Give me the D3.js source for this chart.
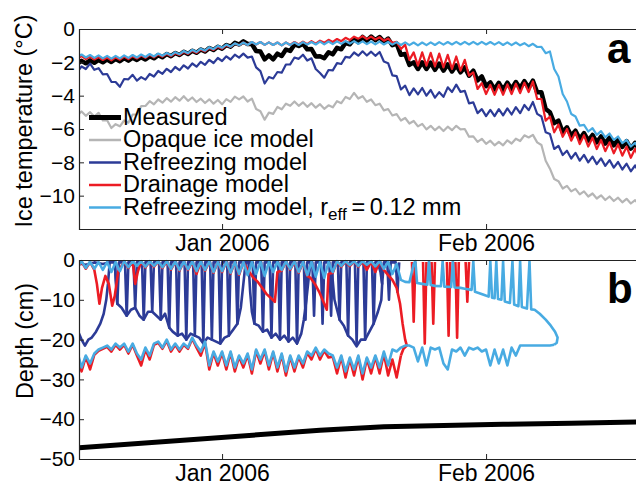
<!DOCTYPE html>
<html><head><meta charset="utf-8">
<script src="https://cdn.jsdelivr.net/npm/d3@7"></script>
<style>body{margin:0;background:#fff} svg{display:block}</style>
</head><body>
<svg id="c" width="636" height="484"></svg>
<script>
// ---------- DATA ----------
// time in days from 15 Dec 2005 00:00 UTC
const tStart = Date.UTC(2005, 11, 15);
const stepDays = 0.5;               // regular series sampled every half day from t = 0
const xTickDates = [Date.UTC(2006, 0, 1), Date.UTC(2006, 1, 1)];
const xTickLabels = ["Jan 2006", "Feb 2006"];
const tempTicks = [0, -2, -4, -6, -8, -10];
const depthTicks = [0, -10, -20, -30, -40, -50];
const seriesNames = ["Measured", "Opaque ice model", "Refreezing model", "Drainage model", "Refreezing model, r"];

// Panel a: ice temperature (°C)
const measured = [-2.08,-1.91,-2.06,-1.88,-2.03,-1.86,-2.0,-1.83,-1.98,-1.8,
-1.93,-1.75,-1.9,-1.72,-1.86,-1.69,-1.83,-1.64,-1.76,-1.57,
-1.7,-1.5,-1.63,-1.44,-1.56,-1.37,-1.5,-1.3,-1.43,-1.23,
-1.35,-1.14,-1.26,-1.06,-1.18,-0.96,-1.06,-0.83,-0.93,-0.74,
-0.9,-0.9,-1.32,-1.35,-1.82,-1.58,-1.82,-1.48,-1.62,-1.23,
-1.32,-0.93,-1.02,-0.88,-1.22,-1.2,-1.65,-1.63,-1.75,-1.4,
-1.52,-1.13,-1.22,-0.83,-0.92,-0.61,-0.79,-0.48,-0.7,-0.45,
-0.67,-0.48,-0.77,-0.58,-0.97,-0.88,-1.55,-1.5,-2.15,-2.0,
-2.4,-2.0,-2.4,-2.02,-2.45,-2.07,-2.5,-2.12,-2.55,-2.18,
-2.6,-2.3,-2.8,-2.5,-3.08,-2.85,-3.43,-3.2,-3.62,-3.23,
-3.65,-3.22,-3.6,-3.18,-3.55,-3.13,-3.52,-3.1,-3.8,-3.8,
-4.8,-5.0,-5.65,-5.5,-6.2,-5.9,-6.4,-6.1,-6.6,-6.25,
-6.7,-6.36,-6.8,-6.45,-6.88,-6.52,-6.98,-6.63,-7.08,-6.73,
-7.18,-6.83,-7.27];
const opaqueModel = [-5.17,-4.95,-5.21,-4.99,-5.25,-5.03,-5.49,-5.48,-5.94,-5.71,
-5.84,-5.49,-5.62,-5.13,-5.12,-4.63,-4.62,-4.33,-4.52,-4.23,
-4.42,-4.15,-4.36,-4.09,-4.3,-4.03,-4.31,-4.11,-4.38,-4.18,
-4.44,-4.22,-4.48,-4.26,-4.52,-4.21,-4.37,-4.06,-4.22,-4.05,
-4.35,-4.18,-4.8,-4.93,-5.44,-5.02,-5.09,-4.68,-4.82,-4.48,
-4.61,-4.35,-4.61,-4.4,-4.67,-4.45,-4.72,-4.51,-4.79,-4.58,
-4.7,-4.33,-4.45,-4.08,-4.2,-3.83,-4.17,-4.03,-4.37,-4.23,
-4.57,-4.48,-4.88,-4.8,-5.19,-5.11,-5.49,-5.34,-5.67,-5.52,
-5.84,-5.69,-6.02,-5.81,-6.07,-5.86,-6.12,-5.86,-6.07,-5.81,
-6.02,-6.0,-6.46,-6.44,-6.77,-6.59,-6.89,-6.7,-6.98,-6.77,
-6.98,-6.68,-6.87,-6.58,-6.72,-6.38,-6.51,-6.35,-6.8,-6.96,
-7.91,-8.38,-9.0,-9.13,-9.57,-9.41,-9.74,-9.59,-9.92,-9.74,
-10.05,-9.87,-10.17,-9.98,-10.26,-10.05,-10.32,-10.12,-10.4,-10.19,
-10.47,-10.27,-10.53];
const refreezingModel = [-2.57,-2.25,-2.4,-2.08,-2.45,-2.35,-2.72,-2.7,-3.17,-3.18,
-3.47,-3.0,-3.02,-2.75,-3.1,-2.89,-3.04,-2.7,-2.85,-2.52,
-2.69,-2.39,-2.58,-2.28,-2.47,-2.18,-2.37,-2.07,-2.26,-1.97,
-2.15,-1.85,-2.04,-1.74,-1.92,-1.64,-1.83,-1.54,-1.72,-1.48,
-1.72,-1.65,-2.3,-2.53,-3.27,-2.88,-2.97,-2.58,-2.62,-2.13,
-2.12,-1.71,-1.79,-1.54,-1.89,-1.76,-2.4,-2.64,-2.92,-2.46,
-2.48,-2.05,-2.1,-1.67,-1.72,-1.41,-1.6,-1.34,-1.59,-1.36,
-1.61,-1.38,-1.95,-2.05,-2.78,-2.83,-3.63,-3.4,-3.97,-3.56,
-3.92,-3.54,-4.0,-3.66,-4.12,-3.79,-4.07,-3.5,-3.78,-3.34,
-3.77,-3.71,-4.46,-4.4,-5.05,-4.81,-5.23,-4.85,-5.23,-4.81,
-5.18,-4.76,-5.13,-4.69,-5.05,-4.56,-4.87,-4.38,-5.09,-5.25,
-6.2,-6.3,-7.2,-7.01,-7.56,-7.3,-7.77,-7.43,-7.9,-7.55,
-8.0,-7.66,-8.11,-7.76,-8.21,-7.87,-8.32,-7.98,-8.43,-8.08,
-8.54,-8.19,-8.62];
const drainageModel = [-1.78,-1.63,-1.81,-1.66,-1.83,-1.68,-1.86,-1.71,-1.88,-1.7,
-1.84,-1.66,-1.81,-1.63,-1.77,-1.59,-1.73,-1.55,-1.7,-1.52,
-1.66,-1.49,-1.63,-1.44,-1.56,-1.37,-1.5,-1.3,-1.43,-1.23,
-1.35,-1.14,-1.26,-1.06,-1.18,-0.97,-1.08,-0.87,-0.98,-0.81,
-0.96,-0.78,-0.93,-0.78,-0.95,-0.8,-0.96,-0.81,-0.98,-0.81,
-0.96,-0.78,-0.93,-0.76,-0.91,-0.73,-0.88,-0.7,-0.83,-0.65,
-0.78,-0.6,-0.73,-0.53,-0.66,-0.46,-0.58,-0.43,-0.61,-0.46,
-0.63,-0.5,-0.7,-0.57,-0.83,-0.77,-1.2,-0.95,-1.85,-1.4,
-2.2,-1.4,-2.2,-1.43,-2.25,-1.48,-2.3,-1.55,-2.4,-1.65,
-2.5,-1.85,-2.8,-2.6,-3.6,-3.25,-3.9,-3.35,-3.95,-3.35,
-3.95,-3.32,-3.9,-3.28,-3.85,-3.22,-3.78,-3.15,-4.2,-4.2,
-5.5,-5.25,-6.2,-5.73,-6.47,-6.0,-6.7,-6.2,-6.9,-6.37,
-7.05,-6.52,-7.2,-6.66,-7.33,-6.8,-7.46,-6.92,-7.6,-7.06,
-7.73,-7.19,-7.82];
const refreezingReffModel = [-1.68,-1.53,-1.71,-1.56,-1.73,-1.58,-1.76,-1.61,-1.78,-1.61,
-1.76,-1.58,-1.73,-1.56,-1.71,-1.53,-1.68,-1.5,-1.65,-1.47,
-1.61,-1.44,-1.58,-1.39,-1.51,-1.32,-1.45,-1.25,-1.38,-1.18,
-1.3,-1.09,-1.21,-1.01,-1.13,-0.93,-1.06,-0.86,-0.98,-0.81,
-0.96,-0.78,-0.93,-0.78,-0.95,-0.8,-0.96,-0.81,-0.98,-0.81,
-0.97,-0.8,-0.96,-0.79,-0.94,-0.78,-0.93,-0.76,-0.92,-0.75,
-0.91,-0.74,-0.89,-0.73,-0.88,-0.73,-0.89,-0.74,-0.91,-0.75,
-0.92,-0.76,-0.93,-0.78,-0.94,-0.79,-0.96,-0.8,-0.97,-0.81,
-0.98,-0.81,-0.97,-0.8,-0.96,-0.79,-0.94,-0.78,-0.93,-0.77,
-0.93,-0.77,-0.93,-0.77,-0.93,-0.77,-0.93,-0.78,-0.94,-0.79,
-0.96,-0.8,-0.97,-0.81,-0.98,-0.85,-1.03,-0.89,-1.08,-1.07,
-1.45,-1.35,-2.4,-2.85,-3.9,-4.35,-5.1,-5.25,-5.8,-5.75,
-6.15,-5.95,-6.35,-6.13,-6.5,-6.27,-6.65,-6.45,-6.85,-6.65,
-7.05,-6.83,-7.2];

// Panel b: depth (cm). Lower boundaries every half day from t = 0
const reffLower = [-23,-27,-24,-26,-23.5,-22.5,-22,-21.5,-22.5,-21,
-22,-21,-23,-21,-23.5,-25,-22,-24,-21,-20.5,
-22,-20,-22.5,-21,-22.5,-21,-22,-19.5,-21.5,-23,
-20.5,-26.5,-23,-25.5,-23,-26.5,-23,-27,-24,-26,
-23.5,-27.5,-22.5,-25,-22.5,-26.5,-23,-27,-23.5,-28,
-24,-27,-24,-26,-23,-24,-22,-24,-22.5,-23.5,
-24,-27,-24,-28,-24.5,-27.5,-24,-28.5,-24.5,-27,
-24,-27,-23,-26.5,-22.5,-23,-22,-21.5,-21.5,-22,
-25.5,-22,-26.5,-22,-22.5,-22,-26,-27.5,-22.5,-23,
-22,-24,-22,-22.5,-22,-23,-22.5,-26.5,-22.5,-26,
-22.5,-26.5,-22,-24,-21.5,-21.5,-21.5,-21.5,-21.5,-21.5,
-21.5,-21.5,-21.3];
const drainageLower = [-23.3,-28,-24.3,-27.5,-23.8,-22.8,-22.3,-21.8,-23,-21.3,
-22.5,-21.3,-23.5,-21.3,-24,-26.5,-22.5,-25,-21.3,-20.8,
-22.3,-20.3,-23,-21.3,-23,-21.3,-22.3,-19.8,-22,-24,
-20.8,-27.5,-23.3,-26.5,-23.3,-27.5,-23.3,-28,-24.3,-27,
-23.8,-28.5,-22.8,-26,-22.8,-27.5,-23.3,-28,-23.8,-29,
-24.3,-28,-24.3,-27,-23.3,-25,-22.3,-25,-22.8,-24.5,
-24.3,-28.5,-24.3,-29.5,-24.8,-29,-24.3,-30,-24.8,-28.5,
-24.3,-28.5,-23.5,-29,-25,-29.5,-24];
// Upper boundaries and lens outlines as [day, depth]; null = break
const refreezingUpper = [[0,-0.8],[1,-1.2],[2,-0.6],[3,-1],[3.8,-0.6],[4.4,-0.6],[4.7,-11],[4.9,-0.6],
[5.6,-0.6],[5.8,-14],[6,-0.6],[6.6,-0.6],[6.8,-12],[7,-0.6],[7.6,-0.6],[7.8,-15],[8,-0.6],
[8.6,-0.6],[8.8,-13],[9,-0.6],[9.6,-0.6],[9.8,-15],[10,-0.6],[10.6,-0.6],[10.8,-17],[11,-0.6],
[11.6,-0.6],[11.8,-19],[12,-0.6],[12.6,-0.6],[12.8,-20],[13,-0.6],[13.6,-0.6],[13.8,-19],[14,-0.6],
[14.6,-0.6],[14.8,-21],[15,-0.6],[15.6,-0.6],[15.8,-20],[16,-0.6],[16.6,-0.6],[16.8,-21],[17,-0.6],
[17.6,-0.6],[17.8,-19],[18,-0.6],[18.6,-0.6],[18.8,-16],[19,-0.6],[19.8,-0.6],
[20.6,-0.6],[20.8,-16],[21,-0.6],[21.6,-0.6],[21.8,-18],[22,-0.6],[22.6,-0.6],[22.8,-19.5],[23,-0.6],
[23.6,-0.6],[23.8,-20],[24,-0.6],[24.6,-0.6],[24.8,-20.5],[25,-0.6],[25.6,-0.6],[25.8,-21],[26,-0.6],
[26.6,-0.6],[26.8,-15],[27,-0.6],[27.6,-0.6],[27.8,-14],[28,-0.6],[28.6,-0.6],[28.8,-16],[29,-0.6],
[29.6,-0.6],[29.8,-14],[30,-0.6],[30.6,-0.6],[30.8,-15],[31,-0.6],[31.6,-0.6],[31.8,-19],[32,-0.6],
[32.6,-0.6],[32.8,-21],[33,-0.6],[33.6,-0.6],[33.8,-20],[34,-0.6],[34.6,-0.6],[34.8,-16],[35,-0.6],
[35.6,-0.6],[35.8,-6],[36,-0.6],[36.4,-0.6],[36.6,-10],[36.8,-0.6],[37.4,-0.6],[37.6,-8],[37.8,-0.6]];
const refreezingLower = [[0,-17.5],[0.5,-20],[0.9,-21.5],[1.3,-20],[1.7,-19.5],[2.2,-18],[2.7,-16],[3.1,-13.5],
[3.4,-10],[3.6,-6],[3.75,-2],[3.8,-0.6], null,
[4.4,-0.6],[4.7,-11],[5.2,-12],[5.8,-14],[6.3,-12.5],[6.8,-12],[7.3,-14],[7.8,-15],[8.3,-13],[8.8,-13],
[9.3,-14],[9.8,-15],[10.3,-13.5],[10.8,-17],[11.2,-18],[11.8,-19],[12.3,-18.5],[12.8,-20],[13.3,-18.5],
[13.8,-19],[14.3,-19.5],[14.8,-21],[15.3,-19.5],[15.8,-20],[16.3,-20.5],[16.8,-21],[17.3,-19.5],[17.8,-19],
[18.3,-17.5],[18.8,-16],[19.2,-12],[19.5,-6],[19.7,-2],[19.8,-0.6], null,
[20.1,-0.6],[20.3,-8],[20.5,-13],[20.8,-16],[21.3,-16.5],[21.8,-18],[22.3,-17.5],[22.8,-19.5],[23.3,-18.5],
[23.8,-20],[24.3,-19],[24.8,-20.5],[25.3,-19.5],[25.8,-21],[26.3,-18.5],[26.6,-15],[26.9,-10],[27.2,-4],[27.4,-0.6], null,
[29.9,-3],[30.2,-10],[30.8,-15],[31.3,-16.5],[31.8,-19],[32.3,-20],[32.8,-21.7],[33.3,-20],[33.8,-20],
[34.3,-18],[34.8,-16],[35.3,-13],[35.7,-10],[35.8,-6],[35.6,-3],[35.3,-0.8]];
const drainageUpper = [[0,-2],[0.5,-0.4],[1,-2.2],[1.5,-0.5],[2,-2.5],[2.3,-6],[2.6,-11],[2.9,-7],[3.3,-4],
[3.7,-6],[4.1,-11.5],[4.4,-9],[4.8,-3],[5.5,-0.4],[6,-2],[6.5,-0.4],[6.8,-6],[7.1,-3],[7.5,-0.4],[8,-1.9],
[8.5,-0.4],[9,-1.7],[9.5,-0.4],[10,-2],[10.5,-0.4],[11,-2.4],[11.5,-0.5],[12,-2.7],[12.5,-0.5],[13,-2.5],
[13.5,-0.5],[14,-3.5],[14.5,-0.5],[15,-2.7],[15.5,-0.5],[16,-3.2],[16.5,-0.5],[17,-3],[17.5,-0.5],[18,-3.4],
[18.5,-0.5],[19,-3.7],[19.5,-0.6],[20.2,-3],[20.7,-4.5],[21.2,-5.5],[21.7,-7],[22.2,-8.5],[22.7,-9.5],
[23.2,-10.5],[23.5,-3],[24,-2.7],[24.5,-0.5],[25,-2.4],[25.5,-0.5],[26,-3.2],[26.5,-0.6],[27,-4],[27.4,-4.5],
[27.9,-6],[28.4,-8],[28.9,-10.5],[29.3,-12.5],[29.5,-3.5],[30,-3.2],[30.5,-0.4],[31,-1.7],[31.5,-0.4],
[32,-1.5],[32.5,-0.4],[33,-1.7],[33.5,-0.4],[34,-2.5],[34.5,-0.4],[35,-3],[35.5,-0.4],[36,-2.5],[36.5,-3.8],
[37,-5],[37.5,-7],[37.9,-11],[38.2,-16],[38.5,-20],[38.7,-21.5],[38.3,-22.3],[38,-24], null,
[39.3,-0.5],[39.5,-15.5],[39.7,-0.5], null,[40.6,-0.5],[40.8,-21],[41,-0.5], null,
[41.6,-0.5],[41.8,-16],[42,-0.5], null,[43.4,-0.5],[43.6,-19],[43.8,-0.5], null,
[44.4,-0.5],[44.6,-19.5],[44.8,-0.5], null,[45.6,-0.5],[45.8,-10.5],[46,-0.5]];
const reffUpper = [[0,-1.8],[0.5,-0.3],[1,-2],[1.5,-0.4],[2,-2.2],[2.5,-0.5],[3,-2.5],[3.5,-0.5],[4,-3],
[4.5,-0.5],[5,-2.8],[5.5,-0.3],[6,-1.8],[6.5,-0.3],[7,-1.5],[7.5,-0.3],[8,-1.7],[8.5,-0.3],[9,-1.5],
[9.5,-0.3],[10,-1.8],[10.5,-0.3],[11,-2.2],[11.5,-0.4],[12,-2.5],[12.5,-0.4],[13,-2.3],[13.5,-0.4],
[14,-2.8],[14.5,-0.4],[15,-2.5],[15.5,-0.4],[16,-3],[16.5,-0.5],[17,-2.8],[17.5,-0.5],[18,-3.2],[18.5,-0.5],
[19,-3.5],[19.5,-0.5],[20,-3.8],[20.5,-0.5],[21,-3.5],[21.5,-0.5],[22,-4],[22.5,-0.5],[23,-3],[23.5,-0.5],
[24,-2.5],[24.5,-0.4],[25,-2.2],[25.5,-0.4],[26,-3],[26.5,-0.5],[27,-3.8],[27.5,-0.5],[28,-4.2],[28.5,-0.5],
[29,-4.5],[29.5,-0.5],[30,-3],[30.5,-0.3],[31,-1.5],[31.5,-0.3],[32,-1.3],[32.5,-0.3],[33,-1.5],[33.5,-0.3],
[34,-1.2],[34.5,-0.3],[35,-1.6],[35.5,-0.3],[36,-2.2],[36.5,-0.5],[37,-3.5],[37.5,-1],[38,-5],[38.5,-5.5],
[39,-5.6],[39.5,-1],[39.7,-0.3],[39.9,-5.8],[40.5,-6],[41.1,-6.2],[41.3,-0.3],[41.5,-6.3],[42,-6.5],
[42.7,-6.6],[42.9,-0.3],[43.1,-6.7],[43.9,-6.8],[44.1,-0.3],[44.3,-6.9],[45,-7],[45.5,-7.2],[46.3,-7.5],
[46.5,-0.3],[46.7,-8],[47.3,-8.4],[47.8,-8.8],[48.3,-9.2],[48.5,-0.3],[48.7,-9.5],[49,-9.6],[49.2,-0.3],
[49.4,-9.8],[49.8,-10],[50,-0.3],[50.2,-10.4],[50.8,-10.8],[51.1,-0.3],[51.3,-11.2],[51.8,-11.6],[52,-0.3],
[52.2,-11.8],[52.8,-12.2],[53.1,-0.3],[53.3,-12.4],[53.7,-12.5],[54.3,-13.5],[55,-15],[55.6,-16.5],
[56.1,-18],[56.4,-19.5],[56.3,-20.8],[56,-21.3]];
const sensorDepth = [[0,-47.2],[28.5,-42.8],[36,-41.9],[50,-41.3],[58,-41.0],[66.2,-40.7]];

// ---------- CHART ----------
const colors = {black:"#000", gray:"#b5b5b5", blue:"#2c3b97", red:"#ec1c24", light:"#48abe2"};
const svg = d3.select("#c");
const toDate = t => new Date(tStart + t * 864e5);
const L = 79, R = 640;
const x = d3.scaleUtc().domain([toDate(0.2), toDate(0.2 + (R - L) / 8.516)]).range([L, R]);
const yA = d3.scaleLinear().domain([-12, 0]).range([229, 29]);
const yB = d3.scaleLinear().domain([-50, 0]).range([459, 260]);
const FONT = "'Liberation Sans', Arial, sans-serif";

const defs = svg.append("defs");
defs.append("clipPath").attr("id","clipA").append("rect").attr("x",L).attr("y",29).attr("width",R-L).attr("height",200);
defs.append("clipPath").attr("id","clipB").append("rect").attr("x",L).attr("y",258).attr("width",R-L).attr("height",201);

function panelAxes(y, ticks, top, bottom) {
  const g = svg.append("g").attr("font-family", FONT);
  const ay = g.append("g").attr("transform",`translate(${L},0)`)
    .call(d3.axisLeft(y).tickValues(ticks).tickSize(-5).tickPadding(4).tickFormat(d3.format("d")));
  ay.select(".domain").remove();
  ay.selectAll("text").attr("font-size", 21).attr("fill","#000");
  const ab = g.append("g").attr("transform",`translate(0,${bottom})`)
    .call(d3.axisBottom(x).tickValues(xTickDates.map(d=>new Date(d))).tickSize(-5).tickPadding(6)
      .tickFormat((d,i)=>xTickLabels[i]));
  ab.select(".domain").remove();
  ab.selectAll("text").attr("font-size", 23).attr("fill","#000");
  const at = g.append("g").attr("transform",`translate(0,${top})`)
    .call(d3.axisTop(x).tickValues(xTickDates.map(d=>new Date(d))).tickSize(-5).tickFormat(""));
  at.select(".domain").remove();
  g.selectAll(".tick line").attr("stroke","#222");
  g.append("path").attr("d",`M${R},${top+0.5}H${L+0.5}V${bottom+0.5}H${R}`)
    .attr("fill","none").attr("stroke","#222").attr("stroke-width",1.2);
}

// Panel a
const lineA = d3.line().x((d,i)=>x(toDate(i*stepDays))).y(d=>yA(d));
const gA = svg.append("g").attr("clip-path","url(#clipA)").attr("fill","none").attr("stroke-linejoin","round");
gA.append("path").attr("d", lineA(measured)).attr("stroke", colors.black).attr("stroke-width", 4.5);
gA.append("path").attr("d", lineA(opaqueModel)).attr("stroke", colors.gray).attr("stroke-width", 2.2);
gA.append("path").attr("d", lineA(refreezingModel)).attr("stroke", colors.blue).attr("stroke-width", 2.2);
gA.append("path").attr("d", lineA(drainageModel)).attr("stroke", colors.red).attr("stroke-width", 2.2);
gA.append("path").attr("d", lineA(refreezingReffModel)).attr("stroke", colors.light).attr("stroke-width", 2.2);
panelAxes(yA, tempTicks, 29, 229);

// Panel b
const lineB = d3.line().defined(d=>d).x(d=>x(toDate(d[0]))).y(d=>yB(d[1]));
const regular = arr => arr.map((v,i)=>[i*stepDays, v]);
const gB = svg.append("g").attr("clip-path","url(#clipB)").attr("fill","none").attr("stroke-linejoin","round");
gB.append("path").attr("d", lineB(refreezingLower)).attr("stroke", colors.blue).attr("stroke-width", 2.6);
gB.append("path").attr("d", lineB(refreezingUpper)).attr("stroke", colors.blue).attr("stroke-width", 2.6);
gB.append("path").attr("d", lineB(regular(drainageLower))).attr("stroke", colors.red).attr("stroke-width", 2.6);
gB.append("path").attr("d", lineB(drainageUpper)).attr("stroke", colors.red).attr("stroke-width", 2.6);
gB.append("path").attr("d", lineB(regular(reffLower))).attr("stroke", colors.light).attr("stroke-width", 2.6);
gB.append("path").attr("d", lineB(reffUpper)).attr("stroke", colors.light).attr("stroke-width", 2.6);
gB.append("path").attr("d", lineB(sensorDepth)).attr("stroke", colors.black).attr("stroke-width", 5);
panelAxes(yB, depthTicks, 260, 459);

// Axis titles
svg.append("text").attr("transform","translate(32,121) rotate(-90)").attr("text-anchor","middle")
  .attr("font-family",FONT).attr("font-size",23.5).text("Ice temperature (°C)");
svg.append("text").attr("transform","translate(33,341) rotate(-90)").attr("text-anchor","middle")
  .attr("font-family",FONT).attr("font-size",23.5).text("Depth (cm)");

// Panel letters
svg.append("text").attr("x",607).attr("y",63).attr("font-family",FONT).attr("font-weight","bold").attr("font-size",42).text("a");
svg.append("text").attr("x",607).attr("y",303).attr("font-family",FONT).attr("font-weight","bold").attr("font-size",42).text("b");

// Legend
const legendItems = [
  {name: seriesNames[0], color: colors.black, w: 5},
  {name: seriesNames[1], color: colors.gray, w: 2.5},
  {name: seriesNames[2], color: colors.blue, w: 2.5},
  {name: seriesNames[3], color: colors.red, w: 2.5},
  {name: seriesNames[4], color: colors.light, w: 2.5}
];
const lg = svg.append("g").attr("font-family", FONT);
legendItems.forEach((it, i) => {
  const yb = 124.5 + i * 22.5;
  lg.append("line").attr("x1",89).attr("x2",121).attr("y1",yb-7).attr("y2",yb-7)
    .attr("stroke",it.color).attr("stroke-width",it.w);
  const t = lg.append("text").attr("x",123).attr("y",yb).attr("font-size",23.5).text(it.name);
  if (i === 4) {
    t.append("tspan").attr("font-size",17).attr("dy",5).text("eff");
    t.append("tspan").attr("dy",-5).text("\u2009=\u20090.12 mm");
  }
});
</script>
</body></html>
